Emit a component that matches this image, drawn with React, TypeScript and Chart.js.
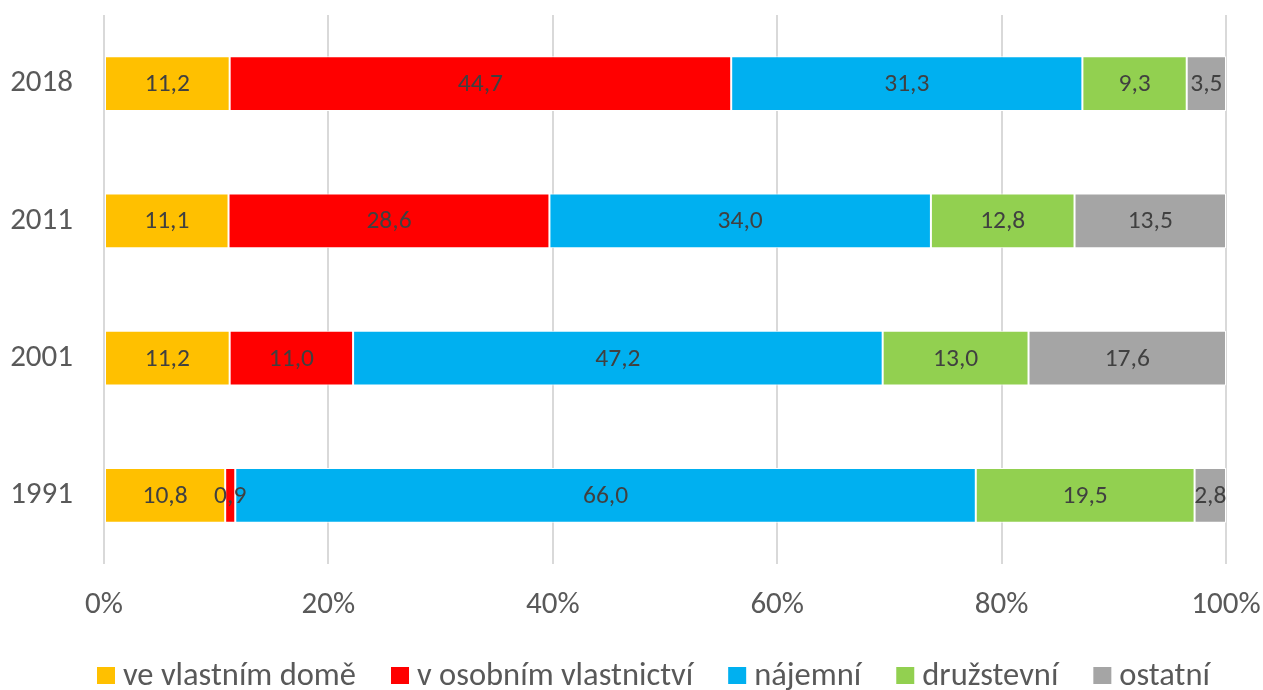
import React, { useEffect, useRef } from "react";
import { Chart, registerables } from "chart.js";

Chart.register(...registerables);

const years = ["2018", "2011", "2001", "1991"];
const seriesNames = ["ve vlastním domě", "v osobním vlastnictví", "nájemní", "družstevní", "ostatní"];
const vlastniDum = [11.2, 11.1, 11.2, 10.8];
const osobni = [44.7, 28.6, 11.0, 0.9];
const najemni = [31.3, 34.0, 47.2, 66.0];
const druzstevni = [9.3, 12.8, 13.0, 19.5];
const ostatni = [3.5, 13.5, 17.6, 2.8];
const colors = ["#FFC000", "#FF0000", "#00B0F0", "#92D050", "#A5A5A5"];
const xTicks = [0, 20, 40, 60, 80, 100];

const FONT = 'Carlito, Calibri, Lato, sans-serif';

const labelPlugin = {
  id: "segLabels",
  afterDatasetsDraw(chart: any) {
    const ctx = chart.ctx;
    ctx.save();
    ctx.font = `25.5px ${FONT}`;
    ctx.fillStyle = "#404040";
    ctx.textAlign = "center";
    ctx.textBaseline = "middle";
    chart.data.datasets.forEach((ds: any, di: number) => {
      const meta = chart.getDatasetMeta(di);
      meta.data.forEach((el: any, i: number) => {
        const v = ds.data[i];
        const p = el.getProps(["x", "y", "base"], true);
        const cx = (p.x + p.base) / 2;
        ctx.fillText(v.toFixed(1).replace(".", ","), cx, p.y + 1);
      });
    });
    ctx.restore();
  },
};

const legendPlugin = {
  id: "bottomLegend",
  afterDraw(chart: any) {
    const ctx = chart.ctx;
    ctx.save();
    ctx.font = `32.5px ${FONT}`;
    ctx.textBaseline = "middle";
    ctx.textAlign = "left";
    const box = 18;
    const gapText = 8;
    const gapItem = 35;
    let x = 97;
    const cy = 676;
    chart.data.datasets.forEach((ds: any) => {
      ctx.fillStyle = ds.backgroundColor;
      ctx.fillRect(x, cy - 9, box, 17);
      x += box + gapText;
      ctx.fillStyle = "#595959";
      ctx.fillText(ds.label, x, cy + 1);
      x += ctx.measureText(ds.label).width + gapItem;
    });
    ctx.restore();
  },
};

export default function App() {
  const ref = useRef<HTMLCanvasElement>(null);
  useEffect(() => {
    const all = [vlastniDum, osobni, najemni, druzstevni, ostatni];
    const chart = new Chart(ref.current!, {
      type: "bar",
      data: {
        labels: years,
        datasets: all.map((d, i) => ({
          label: seriesNames[i],
          data: d,
          backgroundColor: colors[i],
          borderColor: "#FFFFFF",
          borderWidth: 1,
          borderSkipped: false,
          categoryPercentage: 1,
          barPercentage: 0.4,
        })),
      },
      options: {
        indexAxis: "y",
        animation: false,
        responsive: true,
        maintainAspectRatio: false,
        layout: { padding: { top: 15, right: 37, left: 0, bottom: 64 } },
        scales: {
          x: {
            stacked: true,
            min: 0,
            max: 100,
            afterBuildTicks: (axis: any) => {
              axis.ticks = xTicks.map((v) => ({ value: v }));
            },
            afterFit: (axis: any) => {
              axis.height = 62;
              axis.paddingLeft = 0;
              axis.paddingRight = 0;
            },
            ticks: {
              callback: (v: any) => v + "%",
              color: "#595959",
              font: { family: FONT, size: 31 },
              padding: 23,
              maxRotation: 0,
            },
            grid: { color: "#D9D9D9", lineWidth: 2, drawTicks: false },
            border: { display: false },
          },
          y: {
            stacked: true,
            afterFit: (axis: any) => {
              axis.width = 104;
              axis.paddingTop = 0;
              axis.paddingBottom = 0;
            },
            ticks: {
              color: "#595959",
              font: { family: FONT, size: 31 },
              padding: 31,
            },
            grid: { display: false, drawTicks: false },
            border: { display: false },
          },
        },
        plugins: {
          legend: { display: false },
          tooltip: { enabled: false },
        },
      },
      plugins: [labelPlugin, legendPlugin],
    });
    return () => chart.destroy();
  }, []);
  return (
    <div style={{ position: "fixed", left: 0, top: 0, width: 1263, height: 690 }}>
      <canvas ref={ref} />
    </div>
  );
}
